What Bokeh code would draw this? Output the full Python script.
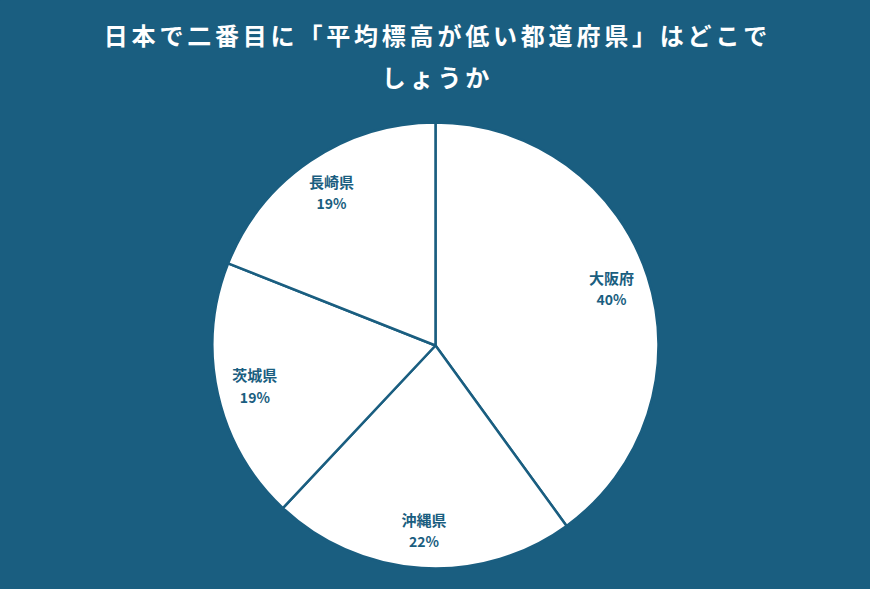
import numpy as np
from bokeh.plotting import figure
from bokeh.models import ColumnDataSource, Range1d
from bokeh.core.properties import value
from bokeh.embed import file_html
from bokeh.resources import INLINE

# data
prefectures = ["大阪府", "沖縄県", "茨城県", "長崎県"]
shares = [40, 22, 19, 19]
title_lines = ["日本で二番目に「平均標高が低い都道府県」はどこで", "しょうか"]

BG = "#1a5e80"
W, H = 870, 589
cx, cy, R = 435, H - 345, 223

vals = np.array(shares, dtype=float)
frac = vals / vals.sum()
ends = np.cumsum(frac)
starts = ends - frac
mids = (starts + ends) / 2

src = ColumnDataSource(dict(
    name=prefectures,
    pct=[f"{v:.0f}%" for v in vals],
    start=np.pi / 2 - starts * 2 * np.pi,
    end=np.pi / 2 - ends * 2 * np.pi,
    lx=cx + 0.83 * R * np.sin(mids * 2 * np.pi),
    ly=cy + 0.83 * R * np.cos(mids * 2 * np.pi),
))

p = figure(width=W, height=H, x_range=Range1d(0, W), y_range=Range1d(0, H),
           output_backend="svg", toolbar_location=None, min_border=0)
p.axis.visible = False
p.grid.visible = False
p.outline_line_color = None
p.background_fill_color = BG
p.border_fill_color = BG

p.wedge(x=cx, y=cy, radius=R, start_angle="start", end_angle="end",
        direction="clock", fill_color="white", line_color=BG, line_width=2.5,
        source=src)

lbl = dict(source=src, text_align="center", text_baseline="middle", text_color=BG,
           text_font=value("Noto Sans CJK JP"), text_font_style="bold")
p.text(x="lx", y="ly", text="name", y_offset=-11, text_font_size="15px", **lbl)
p.text(x="lx", y="ly", text="pct", y_offset=11, text_font_size="14px", **lbl)

# title, laid out char by char to get the wide letter spacing
fs, pitch = 24, 27.8
tx, ty, tt = [], [], []
for line, yc in zip(title_lines, [H - 34, H - 76]):
    x0 = cx - (len(line) * pitch - (pitch - fs)) / 2
    for i, ch in enumerate(line):
        tx.append(x0 + i * pitch + fs / 2)
        ty.append(yc)
        tt.append(ch)
p.text(x=tx, y=ty, text=tt, text_align="center", text_baseline="middle",
       text_color="white", text_font=value("Noto Sans CJK JP"),
       text_font_style="bold", text_font_size=f"{fs}px")

html = file_html(p, INLINE)
html = html.replace("<head>", "<head><style>body{margin:0;background:%s;overflow:hidden}</style>" % BG, 1)
open("out.html", "w").write(html)
